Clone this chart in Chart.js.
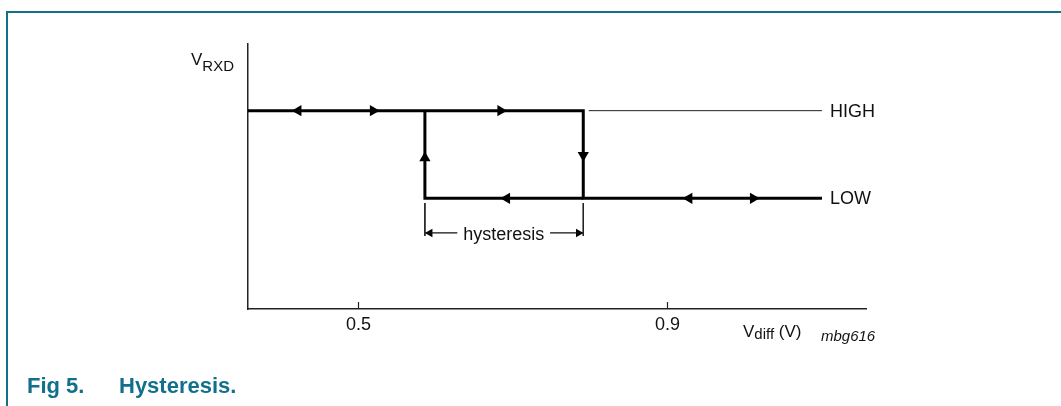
<!DOCTYPE html>
<html lang="en">
<head>
<meta charset="UTF-8">
<title>Hysteresis</title>
<style>
  body { margin: 0; background: #fff; }
  #frame { position: absolute; left: 6px; top: 11px; width: 1055px; height: 395px; border-top: 2px solid #12708c; border-left: 2px solid #12708c; box-sizing: border-box; }
  canvas { position: absolute; left: 0; top: 0; }
</style>
</head>
<body>
<div id="frame"></div>
<canvas id="chart" width="1061" height="406"></canvas>

<script src="https://cdn.jsdelivr.net/npm/chart.js"></script>
<script>
// axis ranges (V on x, logic level on y: HIGH = 1, LOW = 0)
const xMin = 0.357, xMax = 1.157;
const yMin = -1.264, yMax = 1.761;
const xTicks = [0.5, 0.9];
const levelNames = ['HIGH', 'LOW'];
const levelValues = [1, 0];

// falling branch: HIGH until upper threshold, drop to LOW, continue right
const mainX = [0.357, 0.791, 0.791, 1.100];
const mainY = [1, 1, 0, 0];
// rising branch: from LOW at lower threshold up to HIGH
const riseX = [0.791, 0.586, 0.586];
const riseY = [0, 0, 1];
// thin reference line for HIGH
const highRefX = [0.798, 1.100];
const highRefY = [1, 1];

// direction arrows on the loop
const arrowX = [0.422, 0.519, 0.684, 0.692, 0.928, 1.011, 0.791, 0.586];
const arrowY = [1, 1, 1, 0, 0, 0, 0.49, 0.46];
const arrowDir = [270, 90, 90, 270, 270, 90, 180, 0];

// hysteresis dimension
const dimExtY = [-0.054, -0.43];
const dimY = -0.396;
const dimLeftX = [0.586, 0.628];
const dimRightX = [0.748, 0.791];
const dimArrowX = [0.5925, 0.7848];
const dimArrowDir = [270, 90];
const dimLabelX = 0.688;

const pts = (xs, ys) => xs.map((x, i) => ({ x: x, y: ys[i] }));
const FONT = '"Liberation Sans", Arial, Helvetica, sans-serif';

function lineSet(data, width, color) {
  return {
    data: data, showLine: true, borderWidth: width, borderColor: color,
    pointRadius: 0, fill: false, tension: 0,
    borderJoinStyle: 'miter', borderCapStyle: 'butt'
  };
}

const annotate = {
  id: 'annotate',
  afterDraw(chart) {
    const { ctx, chartArea: ca, scales: { x, y } } = chart;
    ctx.save();

    // tick marks pointing up into the plot
    ctx.strokeStyle = '#222';
    ctx.lineWidth = 1.2;
    xTicks.forEach(v => {
      const px = Math.round(x.getPixelForValue(v)) + 0.5;
      ctx.beginPath();
      ctx.moveTo(px, ca.bottom);
      ctx.lineTo(px, ca.bottom - 7);
      ctx.stroke();
    });

    ctx.fillStyle = '#111';
    ctx.textBaseline = 'middle';
    ctx.font = '18px ' + FONT;
    levelNames.forEach((name, i) => {
      ctx.fillText(name, x.getPixelForValue(mainX[3]) + 8, y.getPixelForValue(levelValues[i]) + 1);
    });

    ctx.textBaseline = 'alphabetic';
    ctx.textAlign = 'center';
    ctx.fillText('hysteresis', x.getPixelForValue(dimLabelX), y.getPixelForValue(dimY) + 7);
    ctx.textAlign = 'left';

    // y axis title V_RXD
    let px = ca.left - 57;
    ctx.font = '17px ' + FONT;
    ctx.fillText('V', px, ca.top + 21);
    px += ctx.measureText('V').width;
    ctx.font = '15px ' + FONT;
    ctx.fillText('RXD', px, ca.top + 27);

    // x axis title V_diff (V)
    px = 743;
    const base = ca.bottom + 28;
    ctx.font = '17px ' + FONT;
    ctx.fillText('V', px, base);
    px += ctx.measureText('V').width;
    ctx.font = '15px ' + FONT;
    ctx.fillText('diff', px, base + 2);
    px += ctx.measureText('diff').width;
    ctx.font = '17px ' + FONT;
    ctx.fillText(' (V)', px, base);

    ctx.font = 'italic 15px ' + FONT;
    ctx.fillText('mbg616', 821, base + 4);

    // caption
    ctx.fillStyle = '#12708c';
    ctx.font = 'bold 22px ' + FONT;
    ctx.fillText('Fig 5.', 27, 393);
    ctx.fillText('Hysteresis.', 119, 393);

    ctx.restore();
  }
};

new Chart(document.getElementById('chart'), {
  type: 'scatter',
  data: {
    datasets: [
      lineSet(pts(mainX, mainY), 3, '#000'),
      lineSet(pts(riseX, riseY), 3, '#000'),
      lineSet(pts(highRefX, highRefY), 1, '#222'),
      lineSet(pts([dimLeftX[0], dimLeftX[0]], dimExtY), 1, '#222'),
      lineSet(pts([dimRightX[1], dimRightX[1]], dimExtY), 1, '#222'),
      lineSet(pts(dimLeftX, [dimY, dimY]), 1.2, '#111'),
      lineSet(pts(dimRightX, [dimY, dimY]), 1.2, '#111'),
      {
        data: pts(arrowX, arrowY), showLine: false,
        pointStyle: 'triangle', pointRadius: 6.5, pointRotation: arrowDir,
        pointBackgroundColor: '#000', pointBorderWidth: 0
      },
      {
        data: pts(dimArrowX, [dimY, dimY]), showLine: false,
        pointStyle: 'triangle', pointRadius: 5, pointRotation: dimArrowDir,
        pointBackgroundColor: '#000', pointBorderWidth: 0
      }
    ]
  },
  options: {
    responsive: false,
    animation: false,
    events: [],
    layout: { padding: { top: 44, right: 195, bottom: 0, left: 0 } },
    plugins: { legend: { display: false }, tooltip: { enabled: false } },
    scales: {
      x: {
        type: 'linear', min: xMin, max: xMax,
        afterBuildTicks: s => { s.ticks = xTicks.map(v => ({ value: v })); },
        grid: { display: false, drawTicks: false },
        border: { display: true, color: '#222', width: 1.5 },
        ticks: { padding: 5, color: '#111', font: { family: FONT, size: 18 }, callback: v => v.toFixed(1) },
        afterFit: s => { s.height = 97; }
      },
      y: {
        type: 'linear', min: yMin, max: yMax,
        ticks: { display: false },
        grid: { display: false, drawTicks: false },
        border: { display: true, color: '#222', width: 1.5 },
        afterFit: s => { s.width = 248; }
      }
    }
  },
  plugins: [annotate]
});
</script>
</body>
</html>
